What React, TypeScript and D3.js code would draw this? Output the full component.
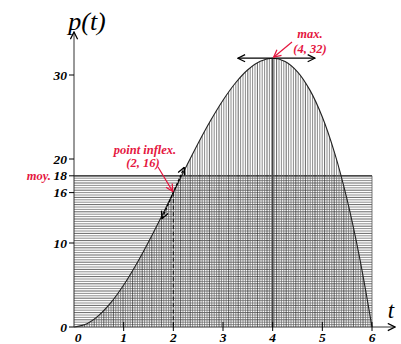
import React from 'react';
import * as d3 from 'd3';

const T_VALUES = [0, 0.25, 0.5, 0.75, 1, 1.25, 1.5, 1.75, 2, 2.25, 2.5, 2.75, 3, 3.25, 3.5, 3.75, 4, 4.25, 4.5, 4.75, 5, 5.25, 5.5, 5.75, 6];
const P_VALUES = [0, 0.36, 1.38, 2.95, 5, 7.42, 10.13, 13.02, 16, 18.98, 21.88, 24.58, 27, 29.05, 30.63, 31.64, 32, 31.61, 30.38, 28.2, 25, 20.67, 15.13, 8.27, 0];

const X_TICKS = [0, 1, 2, 3, 4, 5, 6];
const Y_TICKS = [0, 10, 16, 18, 20, 30];
const MEAN = 18;
const MAX_POINT = [4, 32];
const INFLEX_POINT = [2, 16];
const TANGENT = [[1.77, 12.9], [2.22, 19.0]];
const MAX_TANGENT = [[3.3, 32], [4.85, 32]];

const W = 401;
const H = 344;
const RED = '#e5173f';
const FONT = '"Liberation Serif", "DejaVu Serif", serif';

export default function App() {
  const x = d3.scaleLinear().domain([0, 6]).range([74, 372]);
  const y = d3.scaleLinear().domain([0, 30]).range([327, 75]);

  const pts: [number, number][] = T_VALUES.map((t, i) => [t, P_VALUES[i]]);
  const area = d3
    .area<[number, number]>()
    .x((d) => x(d[0]))
    .y0(y(0))
    .y1((d) => y(d[1]))
    .curve(d3.curveCatmullRom);
  const line = d3
    .line<[number, number]>()
    .x((d) => x(d[0]))
    .y((d) => y(d[1]))
    .curve(d3.curveCatmullRom);

  const x0 = x(0);
  const x6 = x(6);
  const yTop = y(32);
  const yBase = y(0);
  const yMean = y(MEAN);

  // hatching
  const vLines = d3.range(x0 + 1, x6, 2.4);
  const hLines = d3.range(yMean, yBase, 2.4);

  return (
    <svg
      width={W}
      height={H}
      viewBox={`0 0 ${W} ${H}`}
      style={{ position: 'absolute', left: 0, top: 0, background: '#fff' }}
    >
      <defs>
        <clipPath id="under">
          <path d={area(pts) ?? ''} />
        </clipPath>
        <marker id="chev" viewBox="0 0 10 10" refX="9" refY="5" markerWidth="9" markerHeight="9" orient="auto-start-reverse" markerUnits="userSpaceOnUse">
          <path d="M1,1 L9,5 L1,9" fill="none" stroke="#000" strokeWidth={1.4} />
        </marker>
        <marker id="redhead" viewBox="0 0 10 10" refX="9" refY="5" markerWidth="9" markerHeight="9" orient="auto" markerUnits="userSpaceOnUse">
          <path d="M1,1 L9,5 L1,9" fill="none" stroke={RED} strokeWidth={1.4} />
        </marker>
      </defs>

      {/* horizontal hatching: mean rectangle */}
      <g strokeWidth={0.75}>
        {hLines.map((v, i) => (
          <line key={`h${i}`} x1={x0} x2={x6} y1={v} y2={v} stroke={i % 3 === 0 ? '#333' : '#6a6a6a'} />
        ))}
        <line x1={x0} x2={x6} y1={yMean} y2={yMean} stroke="#333" strokeWidth={1.2} />
        <line x1={x6} x2={x6} y1={yMean} y2={yBase} stroke="#555" strokeWidth={0.8} />
      </g>

      {/* vertical hatching under the curve */}
      <g clipPath="url(#under)">
        {vLines.map((v, i) => (
          <line key={`v${i}`} x1={v} x2={v} y1={yTop - 2} y2={yBase} stroke={i % 4 === 0 ? '#333' : '#666'} strokeWidth={0.75} />
        ))}
      </g>

      {/* curve */}
      <path d={line(pts) ?? ''} fill="none" stroke="#222" strokeWidth={1.1} />

      {/* line at max */}
      <line x1={x(MAX_POINT[0])} x2={x(MAX_POINT[0])} y1={y(MAX_POINT[1])} y2={yBase} stroke="#444" strokeWidth={1.6} />
      {/* dashed line at inflexion */}
      <line x1={x(INFLEX_POINT[0])} x2={x(INFLEX_POINT[0])} y1={y(INFLEX_POINT[1])} y2={yBase} stroke="#111" strokeWidth={1} strokeDasharray="4,2.5" />

      {/* tangents */}
      <line
        x1={x(MAX_TANGENT[0][0])} y1={y(MAX_TANGENT[0][1])}
        x2={x(MAX_TANGENT[1][0])} y2={y(MAX_TANGENT[1][1])}
        stroke="#000" strokeWidth={1.3} markerStart="url(#chev)" markerEnd="url(#chev)"
      />
      <line
        x1={x(TANGENT[0][0])} y1={y(TANGENT[0][1])}
        x2={x(TANGENT[1][0])} y2={y(TANGENT[1][1])}
        stroke="#000" strokeWidth={1.3} strokeDasharray="3,1.5" markerStart="url(#chev)" markerEnd="url(#chev)"
      />

      {/* axes */}
      <line x1={x0} x2={395} y1={yBase} y2={yBase} stroke="#333" strokeWidth={1} markerEnd="url(#chev)" />
      <line x1={x0} x2={x0} y1={yBase} y2={32} stroke="#333" strokeWidth={1} markerEnd="url(#chev)" />

      {Y_TICKS.map((v) => (
        <g key={`yt${v}`}>
          <line x1={x0 - 5} x2={x0} y1={y(v)} y2={y(v)} stroke="#000" strokeWidth={1} />
          <text x={x0 - 7} y={y(v) + 4.5} textAnchor="end" fontFamily={FONT} fontStyle="italic" fontWeight="bold" fontSize={13.5}>
            {v}
          </text>
        </g>
      ))}
      <text x={51} y={y(MEAN) + 4.5} textAnchor="end" fontFamily={FONT} fontStyle="italic" fontWeight="bold" fontSize={12.5} fill={RED}>
        moy.
      </text>

      {X_TICKS.map((v) => (
        <g key={`xt${v}`}>
          {v > 0 && <line x1={x(v)} x2={x(v)} y1={yBase - 5} y2={yBase + 4} stroke="#000" strokeWidth={1} />}
          <text x={x(v) + (v === 0 ? 4 : 0)} y={yBase + 15} textAnchor="middle" fontFamily={FONT} fontStyle="italic" fontWeight="bold" fontSize={13.5}>
            {v}
          </text>
        </g>
      ))}

      {/* axis titles */}
      <text x={87} y={30} textAnchor="middle" fontFamily={FONT} fontStyle="italic" fontSize={26}>
        p(t)
      </text>
      <text x={391} y={318} textAnchor="middle" fontFamily={FONT} fontStyle="italic" fontSize={23}>
        t
      </text>

      {/* annotations */}
      <text x={310} y={38} textAnchor="middle" fontFamily={FONT} fontStyle="italic" fontWeight="bold" fontSize={12.5} fill={RED}>
        max.
      </text>
      <text x={310} y={53} textAnchor="middle" fontFamily={FONT} fontStyle="italic" fontWeight="bold" fontSize={12.5} fill={RED}>
        (4, 32)
      </text>
      <line x1={292} y1={42} x2={x(MAX_POINT[0]) + 1} y2={y(MAX_POINT[1]) - 1} stroke={RED} strokeWidth={1.2} markerEnd="url(#redhead)" />

      <text x={145} y={154} textAnchor="middle" fontFamily={FONT} fontStyle="italic" fontWeight="bold" fontSize={12.5} fill={RED}>
        point inflex.
      </text>
      <text x={143} y={167} textAnchor="middle" fontFamily={FONT} fontStyle="italic" fontWeight="bold" fontSize={12.5} fill={RED}>
        (2, 16)
      </text>
      <line x1={158} y1={167} x2={x(INFLEX_POINT[0]) - 0.5} y2={y(INFLEX_POINT[1]) - 1} stroke={RED} strokeWidth={1.2} markerEnd="url(#redhead)" />
    </svg>
  );
}
